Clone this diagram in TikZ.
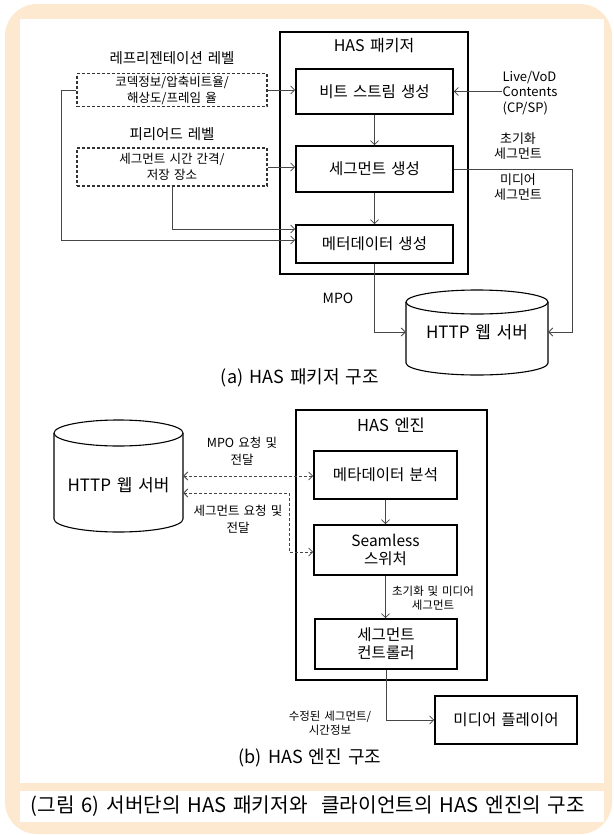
\documentclass[tikz,border=0pt]{standalone}
\usepackage{fontspec}
\setmainfont[WordSpace=1.5]{Noto Sans CJK KR}
\usetikzlibrary{arrows.meta,calc}
\definecolor{peach}{RGB}{253,233,208}
\definecolor{lg}{RGB}{70,70,70}
\tikzset{
  fs/.style={font=\fontsize{#1}{\fpeval{#1*1.2}}\selectfont},
  box/.style={draw=black, line width=1.6pt, fill=white, inner sep=0pt, align=center, font=\fontsize{15.5}{18}\selectfont},
  dbox/.style={draw=black!80, line width=1.1pt, dash pattern=on 3pt off 2pt, fill=white, inner sep=0pt, align=center, font=\fontsize{12.5}{16}\selectfont},
  lbl/.style={align=center, inner sep=0pt},
  conn/.style={draw=lg, line width=0.8pt, -{Straight Barb[length=4pt,width=8pt]}},
  dconn/.style={draw=lg, line width=0.8pt, dash pattern=on 3pt off 2pt, {Straight Barb[length=4pt,width=8pt]}-{Straight Barb[length=4pt,width=8pt]}},
  cyl/.style={draw=black, line width=1.1pt},
}
\begin{document}
\begin{tikzpicture}[x=1pt,y=-1pt]
\useasboundingbox (0,0) rectangle (613,835);
% background frame
\fill[peach, rounded corners=32pt] (5,4) rectangle (612,834);
\fill[white] (20,19) rectangle (604,783);
\fill[white] (20,791) rectangle (604,822);
\node[lbl, fs=20.2] (caption) at (308,806.5) {(그림 6) 서버단의 HAS 패키저와\ \ 클라이언트의 HAS 엔진의 구조};

% ===== (a) HAS packager =====
\node[draw=black, line width=1.8pt, minimum width=188pt, minimum height=242pt, inner sep=0pt] (pkg) at (374,153) {};
\node[lbl, fs=16] (pkgt) at (374,46) {HAS 패키저};
\node[box, minimum width=157pt, minimum height=45pt] (bit) at (374.5,91.5) {비트 스트림 생성};
\node[box, minimum width=157pt, minimum height=46pt] (seg) at (374.5,169) {세그먼트 생성};
\node[box, minimum width=157pt, minimum height=38pt] (meta) at (374.5,244) {메터데이터 생성};

\node[lbl, fs=14.5] (rl) at (172,58) {레프리젠테이션 레벨};
\node[dbox, minimum width=190pt, minimum height=33pt] (d1) at (172,90) {코덱정보/압축비트율/\\해상도/프레임 율};
\node[lbl, fs=14.5] (pl) at (172,134) {피리어드 레벨};
\node[dbox, minimum width=190pt, minimum height=38pt] (d2) at (172,167) {세그먼트 시간 간격/\\저장 장소};

\node[lbl, fs=13, align=left] (live) at (530,93) {Live/VoD\\Contents\\(CP/SP)};
\node[lbl, fs=13] (init) at (518,146) {초기화\\세그먼트};
\node[lbl, fs=13] (media) at (518,187) {미디어\\세그먼트};
\node[lbl, fs=14] (mpo) at (338,298) {MPO};

% server cylinder (top)
\path[fill=white] (406,302) -- (406,363) arc[start angle=180,end angle=360,x radius=71pt,y radius=12pt] -- (548,302) -- cycle;
\draw[cyl] (406,302) -- (406,363) arc[start angle=180,end angle=360,x radius=71pt,y radius=12pt] -- (548,302);
\draw[cyl, fill=white] (477,302) ellipse[x radius=71pt, y radius=12pt];
\node[lbl, fs=17, minimum width=142pt, minimum height=85pt] (srvA) at (477,332) {HTTP 웹 서버};

\node[lbl, fs=18] (capa) at (300,378) {(a) HAS 패키저 구조};

% connectors (a)
\draw[conn] (d1.east) -- (d1.east -| bit.west);
\draw[conn] (live.west |- bit.east) -- (bit.east);
\draw[conn] (bit.south) -- (seg.north);
\draw[conn] (seg.south) -- (meta.north);
\draw[conn] (d2.east) -- (d2.east -| seg.west);
\draw[conn] (d2.south) |- ($(meta.west)+(0,-15)$);
\draw[conn] (d1.west) -- ++(-15,0) |- ($(meta.west)+(0,-4)$);
\draw[conn] (seg.east) -- ++(119,0) |- (srvA.east);
\draw[conn] (meta.south) |- (srvA.west);

% ===== (b) HAS engine =====
\node[draw=black, line width=1.8pt, minimum width=191pt, minimum height=270pt, inner sep=0pt] (eng) at (391.5,545) {};
\node[lbl, fs=16.5] (engt) at (391,425) {HAS 엔진};
\node[box, minimum width=143pt, minimum height=48pt] (ana) at (385.5,475) {메타데이터 분석};
\node[box, minimum width=143pt, minimum height=50pt] (seam) at (385.5,550) {Seamless\\스위처};
\node[box, minimum width=142pt, minimum height=50pt] (ctrl) at (386,644) {세그먼트\\컨트롤러};
\node[box, minimum width=142pt, minimum height=48pt] (player) at (506,720) {미디어 플레이어};

% server cylinder (bottom)
\path[fill=white] (54,433) -- (54,519) arc[start angle=180,end angle=360,x radius=64.5pt,y radius=13pt] -- (183,433) -- cycle;
\draw[cyl] (54,433) -- (54,519) arc[start angle=180,end angle=360,x radius=64.5pt,y radius=13pt] -- (183,433);
\draw[cyl, fill=white] (118.5,433) ellipse[x radius=64.5pt, y radius=13pt];
\node[minimum width=129pt, minimum height=112pt, inner sep=0pt] (srvB) at (118.5,476) {};
\node[lbl, fs=17] (srvBt) at (118.5,485) {HTTP 웹 서버};

\node[lbl, fs=12.5] (mpol) at (242,451) {MPO 요청 및\\[2pt]전달};
\node[lbl, fs=12.5] (segl) at (238,519) {세그먼트 요청 및\\[2pt]전달};
\node[lbl, fs=11.5] (initl) at (433,598) {초기화 및 미디어\\세그먼트};
\node[lbl, fs=11.5] (modl) at (330,723) {수정된 세그먼트/\\시간정보};
\node[lbl, fs=18] (capb) at (310,758) {(b) HAS 엔진 구조};

% connectors (b)
\draw[conn] (ana.south) -- (ana.south |- seam.north);
\draw[conn] (seam.south) -- (seam.south |- ctrl.north);
\draw[conn] (ctrl.south) |- (player.west);
\draw[dconn] (srvB.east) -- (srvB.east -| ana.west);
\draw[dconn] ($(srvB.east)+(0,17)$) -- (289,493) |- ($(seam.west)+(0,2)$);
\end{tikzpicture}
\end{document}
